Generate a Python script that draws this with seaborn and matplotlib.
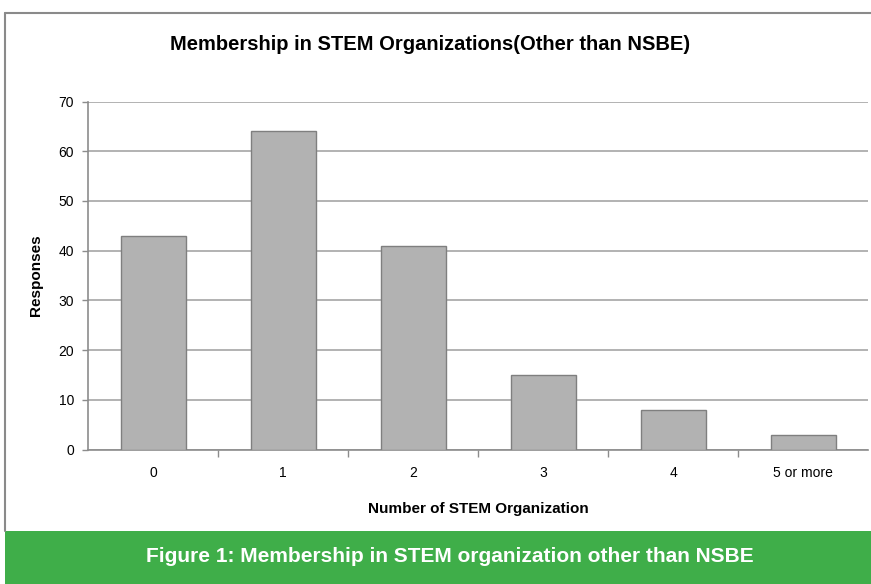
import matplotlib
matplotlib.use("Agg")
import matplotlib.pyplot as plt
from matplotlib.patches import Rectangle
from matplotlib.lines import Line2D
import seaborn as sns
import pandas as pd

categories = ["0", "1", "2", "3", "4", "5 or more"]
responses = [43, 64, 41, 15, 8, 3]
y_ticks = [0, 10, 20, 30, 40, 50, 60, 70]

chart_title = "Membership in STEM Organizations(Other than NSBE)"
x_title = "Number of STEM Organization"
y_title = "Responses"
caption = "Figure 1: Membership in STEM organization other than NSBE"

sns.set_theme(style="white")
plt.rcParams["font.family"] = ["Liberation Sans", "DejaVu Sans"]
plt.rcParams["text.color"] = "black"
plt.rcParams["axes.labelcolor"] = "black"

df = pd.DataFrame({"org": categories, "resp": responses})

W, H = 871, 584
fig = plt.figure(figsize=(W / 100, H / 100), dpi=100)
fig.patch.set_facecolor("white")

# outer chart frame
fig.add_artist(Line2D([5 / W, 5 / W], [1 - 13 / H, 1 - 531 / H], color="#8a8a8a", lw=1.5))
fig.add_artist(Line2D([5 / W, 1], [1 - 13 / H, 1 - 13 / H], color="#8a8a8a", lw=1.5))

# green caption band
fig.add_artist(Rectangle((5 / W, 0), 1 - 5 / W, (H - 531) / H, transform=fig.transFigure,
                         facecolor="#3fae49", edgecolor="none"))
fig.text(450 / W, 1 - 557 / H, caption, color="white", fontsize=15, fontweight="bold",
         ha="center", va="center")

left, right = 88 / W, 868 / W
bottom = (H - 449.5) / H
top = (H - 101.6) / H
ax = fig.add_axes([left, bottom, right - left, top - bottom])

sns.barplot(data=df, x="org", y="resp", ax=ax, color="#b2b2b2", saturation=1,
            width=0.5, edgecolor="#7f7f7f", linewidth=1, zorder=3)

ax.set_xlim(-0.5, len(categories) - 0.5)
ax.set_ylim(0, 70)
ax.set_yticks(y_ticks)
ax.yaxis.grid(True, color="#a6a6a6", lw=1.2, zorder=0)
ax.xaxis.grid(False)
for s in ["top", "right"]:
    ax.spines[s].set_visible(False)
for s in ["left", "bottom"]:
    ax.spines[s].set_color("#8c8c8c")
    ax.spines[s].set_linewidth(1.2)

# category ticks sit on the boundaries between bars
ax.set_xticks([i + 0.5 for i in range(len(categories) - 1)], minor=True)
ax.set_xticks(range(len(categories)))
ax.set_xticklabels(categories)
ax.tick_params(axis="x", which="major", length=0, pad=12, labelsize=10, colors="black")
ax.tick_params(axis="x", which="minor", length=5, width=1, color="#8c8c8c", bottom=True)
ax.tick_params(axis="y", length=4.5, width=1, color="#8c8c8c", left=True, labelsize=10,
               pad=5.5, labelcolor="black")

ax.set_xlabel(x_title, fontsize=11, fontweight="bold", labelpad=16)
ax.set_ylabel(y_title, fontsize=11, fontweight="bold", labelpad=11)

fig.text(430 / W, 1 - 45 / H, chart_title, fontsize=14.5, fontweight="bold",
         ha="center", va="center")

fig.savefig("out.png", dpi=100)
